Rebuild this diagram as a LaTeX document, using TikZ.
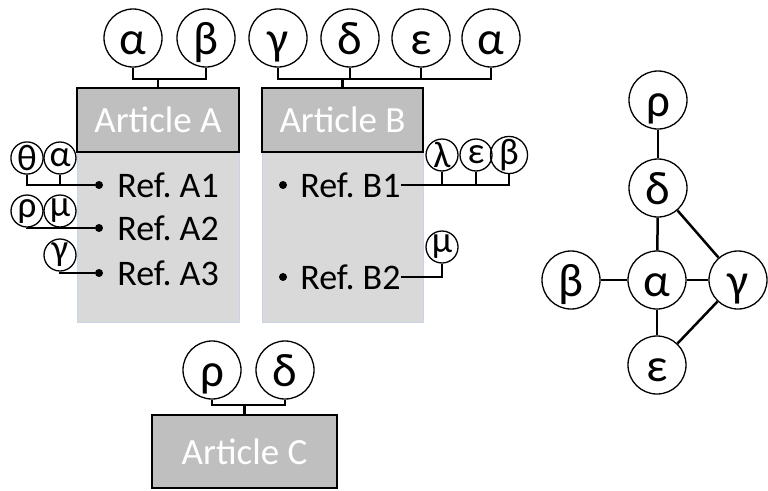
\documentclass[tikz,border=0pt]{standalone}
\usepackage{fontspec}
\setmainfont{Carlito}
\frenchspacing
\usetikzlibrary{calc}
\usetikzlibrary{positioning}
\definecolor{headgray}{HTML}{BFBFBF}
\definecolor{bodygray}{HTML}{D9D9D9}
\definecolor{bodyline}{HTML}{C9D5E6}

\begin{document}
\begin{tikzpicture}[x=1pt, y=-1pt,
  tag/.style={draw, circle, line width=1.3pt, inner sep=0pt, minimum size=58pt, text height=42pt, text depth=9pt, font=\fontsize{47}{47}\selectfont},
  minitag/.style={draw, circle, line width=1.3pt, inner sep=0pt, minimum size=32pt, font=\fontsize{37}{37}\selectfont},
  head/.style={draw, line width=2.5pt, fill=headgray, text=white, inner sep=0pt, font=\fontsize{37}{37}\selectfont},
  body/.style={draw=bodyline, line width=1pt, fill=bodygray, inner sep=0pt},
  dot/.style={circle, fill, inner sep=0pt, minimum size=8pt},
  reftext/.style={inner sep=0pt, font=\fontsize{36}{36}\selectfont},
  link/.style={line width=2.5pt}]
\useasboundingbox (0,0) rectangle (768,490);

% articles
\node[body, minimum width=162pt, minimum height=170pt] (bodyA) at (158,237) {};
\node[body, minimum width=161pt, minimum height=170pt] (bodyB) at (342.5,237) {};
\node[head, minimum width=162pt, minimum height=64pt] (artA) at (158,120) {Article A};
\node[head, minimum width=161pt, minimum height=64pt] (artB) at (342.5,120) {Article B};
\node[head, minimum width=185pt, minimum height=73pt] (artC) at (244.5,451.5) {Article C};

% tags of the articles
\node[tag] (tA1) at (133,38) {α};
\node[tag] (tA2) at (206,38) {β};
\foreach \n/\x/\t in {1/278/γ, 2/350/δ, 3/421/ε, 4/491/α}
  \node[tag] (tB\n) at (\x,38) {\t};
\node[tag] (tC1) at (212,370) {ρ};
\node[tag] (tC2) at (285,370) {δ};

\coordinate (jA) at (artA.north |- 0,79);
\coordinate (jB) at (artB.north |- 0,79);
\coordinate (jC) at (artC.north |- 0,405);
\draw[link] (tA1.south) |- (jA) -| (tA2.south);
\draw[link] (tB1.south) |- (jB) -| (tB4.south);
\foreach \n in {2,3}
  \draw[link] (tB\n.south) -- (tB\n.south |- jB);
\draw[link] (tC1.south) |- (jC) -| (tC2.south);
\foreach \j/\a in {jA/artA, jB/artB, jC/artC}
  \draw[link] (\j) -- (\a.north);

% references of A
\foreach \n/\y in {1/185, 2/228, 3/273} {
  \node[dot] (dA\n) at (99,\y) {};
  \node[reftext, right=14pt of dA\n] (rA\n) {Ref. A\n};
}
\node[minitag] (mA1) at (27,158) {θ};
\node[minitag] (mA2) at (60,158) {α};
\node[minitag] (mA3) at (27,211) {ρ};
\node[minitag] (mA4) at (60,211) {μ};
\node[minitag] (mA5) at (60,255) {γ};
\draw[link] (mA1.south) |- (dA1);
\draw[link] (mA2.south) -- (mA2.south |- dA1);
\draw[link] (mA3.south) |- (dA2);
\draw[link] (mA4.south) -- (mA4.south |- dA2);
\draw[link] (mA5.south) |- (dA3);

% references of B
\foreach \n/\y in {1/185, 2/277} {
  \node[dot] (dB\n) at (283,\y) {};
  \node[reftext, right=13pt of dB\n] (rB\n) {Ref. B\n};
}
\node[minitag] (mB1) at (442,155) {λ};
\node[minitag] (mB2) at (476,155) {ε};
\node[minitag] (mB3) at (509,155) {β};
\node[minitag] (mB4) at (442,247) {μ};
\draw[link] (rB1.east) -| (mB3.south);
\foreach \n in {1,2}
  \draw[link] (mB\n.south) -- (mB\n.south |- rB1.east);
\draw[link] (rB2.east) -| (mB4.south);

% merged graph
\node[tag] (gR) at (658,100) {ρ};
\node[tag] (gD) at (658,188) {δ};
\node[tag] (gA) at (657,280) {α};
\node[tag] (gB) at (571,280) {β};
\node[tag] (gG) at (738,280) {γ};
\node[tag] (gE) at (657,365) {ε};
\foreach \a/\b in {gR/gD, gD/gA, gB/gA, gA/gG, gA/gE, gD/gG, gE/gG}
  \draw[link] (\a) -- (\b);
\end{tikzpicture}
\end{document}
